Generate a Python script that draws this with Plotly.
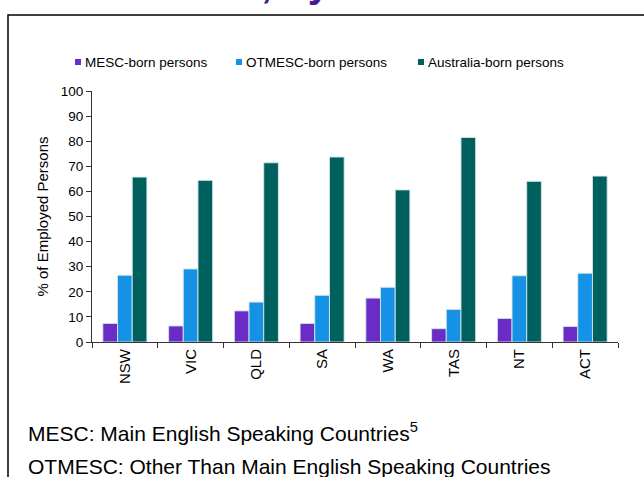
import plotly.graph_objects as go

states = ["NSW", "VIC", "QLD", "SA", "WA", "TAS", "NT", "ACT"]
series_names = ["MESC-born persons", "OTMESC-born persons", "Australia-born persons"]
mesc = [7.4, 6.4, 12.4, 7.4, 17.5, 5.3, 9.4, 6.2]
otmesc = [26.6, 29.1, 15.9, 18.6, 21.8, 13.0, 26.4, 27.4]
australia = [65.7, 64.4, 71.4, 73.7, 60.6, 81.5, 64.0, 66.1]
colors = ["#6A2BC6", "#1591E6", "#00605E"]
y_ticks = list(range(0, 101, 10))

FONT = "Arial, Liberation Sans, sans-serif"
W, H = 644, 477
ML, MR, MT, MB = 92, 26, 91, 135
PW, PH = W - ML - MR, H - MT - MB


def px(x):
    return (x - ML) / PW


def py(y):
    return (H - MB - y) / PH


fig = go.Figure()
for name, vals, col in zip(series_names, [mesc, otmesc, australia], colors):
    fig.add_trace(go.Bar(
        x=states, y=vals, name=name, showlegend=False,
        marker=dict(color=col, line=dict(color="rgba(215,230,235,0.9)", width=1)),
    ))

# manual legend
leg_sq_x = [75, 236, 418]
for name, col, sx in zip(series_names, colors, leg_sq_x):
    fig.add_shape(type="rect", xref="paper", yref="paper",
                  x0=px(sx), x1=px(sx + 6), y0=py(65), y1=py(59),
                  fillcolor=col, line=dict(width=0))
    fig.add_annotation(xref="paper", yref="paper", x=px(sx + 8), y=py(62),
                       xanchor="left", yanchor="middle", showarrow=False,
                       text=name, font=dict(family=FONT, size=13.5, color="#000"))

# frame
fig.add_shape(type="rect", xref="paper", yref="paper",
              x0=px(8), x1=px(660), y0=py(15), y1=py(495),
              line=dict(color="#000", width=1.5), fillcolor="rgba(0,0,0,0)", layer="below")

# partially visible title
fig.add_annotation(xref="paper", yref="paper", x=px(62), y=py(6.5),
                   xanchor="left", yanchor="bottom", showarrow=False,
                   text="<b>Workforce, by State</b>",
                   font=dict(family=FONT, size=40, color="#4B1A8E"))

# footnotes
fig.add_annotation(xref="paper", yref="paper", x=px(26), y=py(432),
                   xanchor="left", yanchor="middle", showarrow=False,
                   text="MESC: Main English Speaking Countries<sup>5</sup>",
                   font=dict(family=FONT, size=21, color="#000"))
fig.add_annotation(xref="paper", yref="paper", x=px(26), y=py(466),
                   xanchor="left", yanchor="middle", showarrow=False,
                   text="OTMESC: Other Than Main English Speaking Countries",
                   font=dict(family=FONT, size=21, color="#000"))

fig.update_layout(
    width=W, height=H,
    margin=dict(l=ML, r=MR, t=MT, b=MB, pad=0),
    paper_bgcolor="white", plot_bgcolor="white",
    barmode="group", bargap=0.33, bargroupgap=0,
    font=dict(family=FONT, size=13.5, color="#000"),
    xaxis=dict(
        type="category", tickangle=-90, showline=True, linecolor="#333", linewidth=1,
        ticks="outside", tickson="boundaries", ticklen=5, tickcolor="#333",
        showgrid=False, tickfont=dict(size=15),
    ),
    yaxis=dict(
        range=[0, 100], tickvals=y_ticks, showline=True, linecolor="#333", linewidth=1,
        ticks="outside", ticklen=5, tickcolor="#333", showgrid=False, zeroline=False,
        title=dict(text="% of Employed Persons", font=dict(size=15), standoff=8),
        tickfont=dict(size=13.5),
    ),
)

fig.write_html("out.html", config={"displayModeBar": False},
               post_script="document.body.style.margin='0px';")
